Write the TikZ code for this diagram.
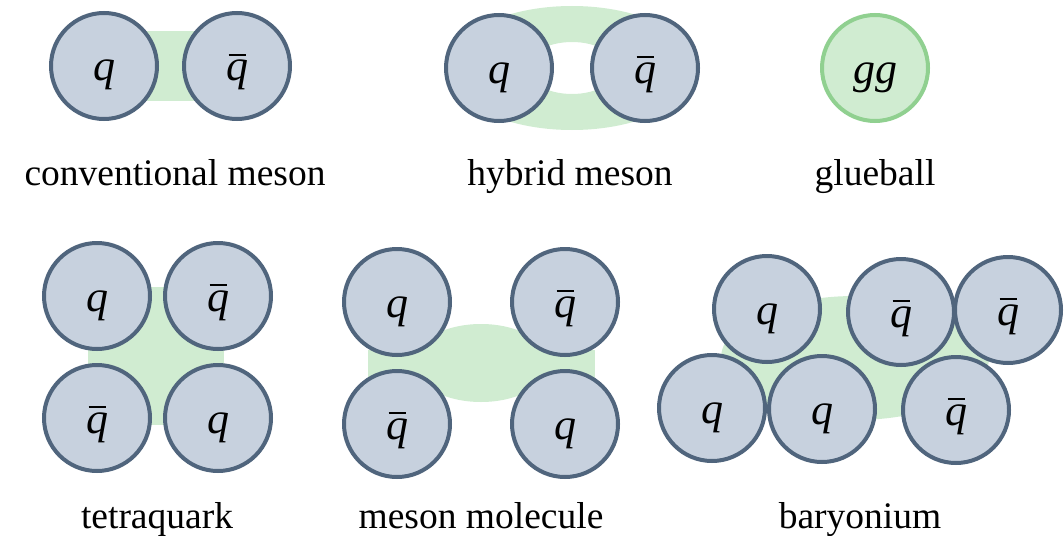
\documentclass[tikz,border=0pt]{standalone}
\usepackage{fontspec}
\setmainfont{Liberation Serif}
\usepackage{tikz}
\usetikzlibrary{backgrounds,calc}
\usepackage{xcolor}
\definecolor{quarkfill}{RGB}{199,209,222}
\definecolor{quarkline}{RGB}{80,101,125}
\definecolor{gluecol}{RGB}{208,236,209}
\definecolor{glueline}{RGB}{144,208,144}
\newcommand{\qk}{\mbox{\itshape q}}
\newcommand{\aqk}{\mbox{\itshape q\llap{\rule[0.57em]{0.4em}{0.045em}\hspace{0.04em}}}}

\begin{document}
\begin{tikzpicture}[
    x=1pt, y=-1pt,
    quark/.style={circle, draw=quarkline, fill=quarkfill, line width=4pt, minimum size=106pt, inner sep=0pt,
        text height=30pt, text depth=0pt, font=\fontsize{44}{46}\selectfont},
    glueball/.style={quark, draw=glueline, fill=gluecol},
    glue/.style={fill=gluecol},
    lbl/.style={anchor=base, font=\fontsize{37.5}{40}\selectfont},
]
\useasboundingbox (0,0) rectangle (1064,535);

% top row
\node[quark] (cq) at (104,66) {\qk};
\node[quark] (cqb) at (237,66) {\aqk};
\node[lbl] (cl) at (175,185) {conventional meson};

\node[quark] (hq) at (499,68) {\qk};
\node[quark] (hqb) at (645,68) {\aqk};
\node[lbl] (hl) at (570,185) {hybrid meson};

\node[glueball] (gb) at (875,68) {\mbox{\itshape gg}};
\node[lbl] (gl) at (875,185) {glueball};

% bottom row
\node[quark] (tq1) at (97,296) {\qk};
\node[quark] (tq2) at (218,296) {\aqk};
\node[quark] (tq3) at (97,418) {\aqk};
\node[quark] (tq4) at (218,418) {\qk};
\node[lbl] (tl) at (157,528) {tetraquark};

\node[quark] (mq1) at (397,302) {\qk};
\node[quark] (mq2) at (565,302) {\aqk};
\node[quark] (mq3) at (397,424) {\aqk};
\node[quark] (mq4) at (565,424) {\qk};
\node[lbl] (ml) at (481,528) {meson molecule};

\node[quark] (bq1) at (767,309) {\qk};
\node[quark] (bq2) at (901,312) {\aqk};
\node[quark] (bq3) at (1008,310) {\aqk};
\node[quark] (bq4) at (712,408) {\qk};
\node[quark] (bq5) at (822,409) {\qk};
\node[quark] (bq6) at (956,410) {\aqk};
\node[lbl] (bl) at (860,528) {baryonium};

% gluon fields behind the quarks
\begin{scope}[on background layer]
\fill[glue] ($(cq.center)+(0,-35)$) rectangle ($(cqb.center)+(0,35)$);
\fill[glue, even odd rule] ($(hq)!0.5!(hqb)$) ellipse [x radius=124pt, y radius=62pt]
    ($(hq)!0.5!(hqb)$) ellipse [x radius=45pt, y radius=26pt];
\fill[glue] (88,287) rectangle (224,425);
\fill[glue] (368,350) rectangle (595,382);
\fill[glue] ($(mq1)!0.5!(mq4)$) ellipse [x radius=68pt, y radius=39pt];
\fill[glue] (855,358) ellipse [x radius=134pt, y radius=62pt];
\end{scope}
\end{tikzpicture}
\end{document}
